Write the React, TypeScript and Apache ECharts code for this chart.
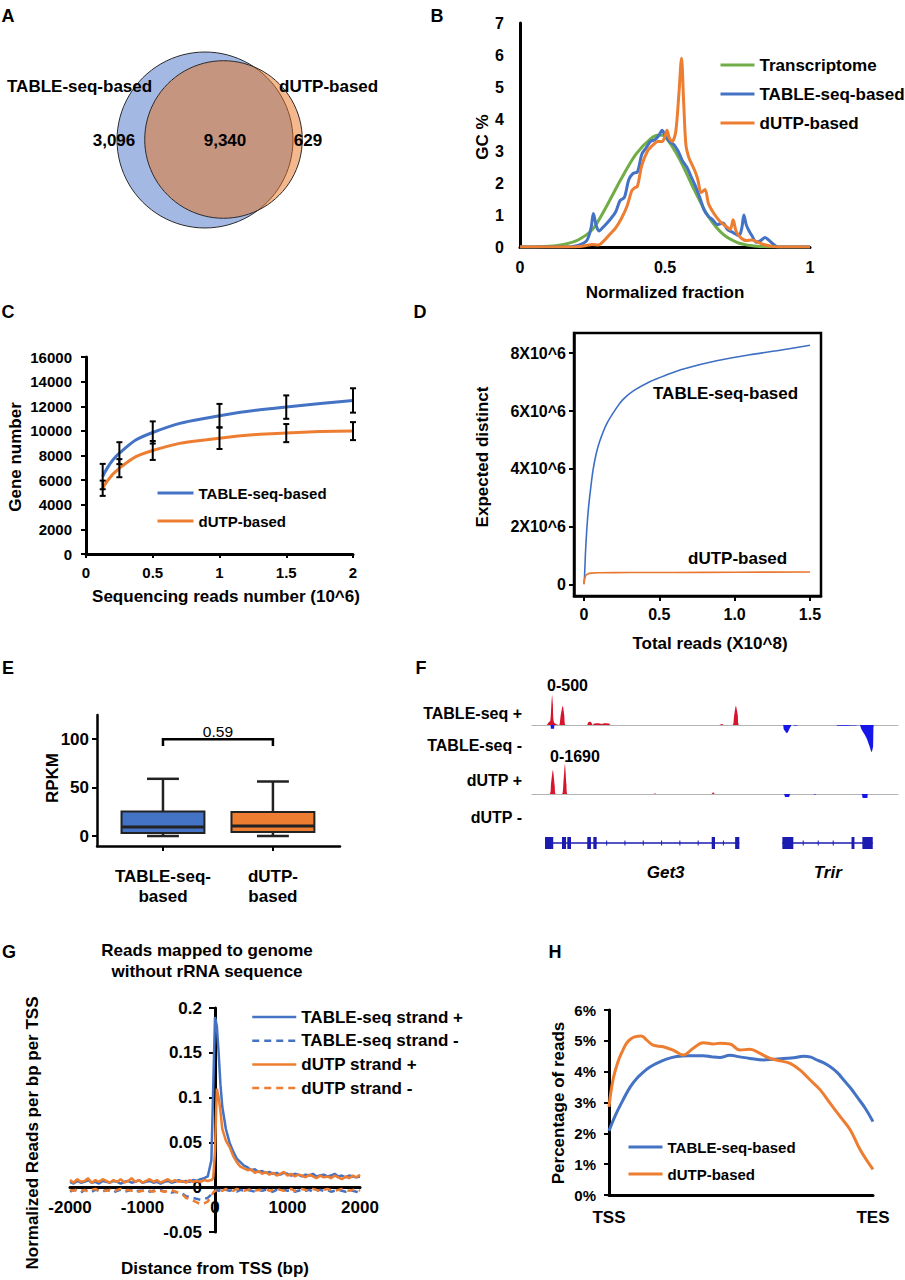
import React, { useEffect, useRef } from "react";
import * as echarts from "echarts";

const FONT = "'Liberation Sans', Arial, Helvetica, sans-serif";
const BLUE = "#4472c4";
const ORANGE = "#ed7d31";
const GREEN = "#70ad47";

// ---------- A: gene overlap ----------
const vennSets = ["TABLE-seq-based", "dUTP-based"];
const vennCounts = [3096, 9340, 629]; // TABLE-seq only, shared, dUTP only

// ---------- B: GC content ----------
const gcTranscriptome = [[0,0],[0.05,0],[0.1,0.02],[0.15,0.08],[0.2,0.22],[0.25,0.55],[0.3,1.3],[0.35,2.15],[0.4,2.9],[0.45,3.38],[0.48,3.5],[0.5,3.45],[0.55,2.75],[0.6,1.8],[0.65,0.95],[0.7,0.4],[0.75,0.14],[0.8,0.04],[0.85,0.01],[0.9,0],[1,0]];
const gcTable = [[0,0],[0.15,0],[0.2,0.05],[0.23,0.2],[0.245,0.6],[0.253,1.05],[0.262,0.7],[0.272,0.5],[0.29,0.65],[0.31,0.85],[0.33,1.1],[0.345,1.45],[0.36,1.55],[0.375,2.1],[0.39,2.3],[0.405,2.35],[0.42,2.9],[0.435,3.1],[0.45,3.3],[0.465,3.35],[0.48,3.5],[0.49,3.65],[0.5,3.5],[0.515,3.3],[0.53,3.2],[0.545,3.0],[0.56,2.7],[0.575,2.5],[0.59,2.2],[0.605,1.9],[0.62,1.55],[0.635,1.15],[0.65,0.95],[0.665,0.85],[0.68,0.7],[0.7,0.75],[0.715,0.55],[0.735,0.45],[0.755,0.35],[0.765,0.6],[0.772,1.0],[0.78,0.7],[0.79,0.5],[0.8,0.35],[0.815,0.15],[0.83,0.2],[0.845,0.3],[0.86,0.2],[0.875,0.08],[0.89,0],[1,0]];
const gcDutp = [[0,0],[0.18,0],[0.22,0.03],[0.25,0.08],[0.27,0.06],[0.29,0.2],[0.31,0.4],[0.33,0.6],[0.35,0.9],[0.37,1.3],[0.385,1.75],[0.395,1.85],[0.405,1.9],[0.42,2.55],[0.44,3.0],[0.46,3.2],[0.475,3.3],[0.49,3.3],[0.5,3.45],[0.507,3.65],[0.515,3.4],[0.525,3.3],[0.537,3.6],[0.548,4.8],[0.557,5.9],[0.564,4.6],[0.572,3.2],[0.582,2.8],[0.592,2.6],[0.602,2.4],[0.612,2.15],[0.625,1.7],[0.638,1.8],[0.65,1.35],[0.665,1.1],[0.68,0.9],[0.695,0.75],[0.71,0.65],[0.725,0.55],[0.735,0.85],[0.745,0.5],[0.76,0.3],[0.78,0.2],[0.8,0.22],[0.82,0.15],[0.84,0.08],[0.87,0.02],[0.9,0],[1,0]];

// ---------- C: saturation of detected genes ----------
const cReads = [0.125, 0.25, 0.5, 1, 1.5, 2];
const cTable = [6290, 8190, 9870, 11230, 11930, 12470];
const cTableSd = [1030, 890, 900, 960, 950, 990];
const cDutp = [5340, 6970, 8410, 9410, 9820, 9980];
const cDutpSd = [620, 735, 770, 880, 735, 730];

// ---------- D: library complexity (millions) ----------
const dTable = [[0,0.05],[0.004,0.3],[0.01,1.1],[0.02,2.0],[0.03,2.65],[0.045,3.35],[0.06,3.95],[0.08,4.5],[0.104,4.95],[0.15,5.55],[0.215,6.1],[0.26,6.4],[0.33,6.7],[0.44,7.02],[0.55,7.25],[0.66,7.45],[0.88,7.73],[1.1,7.94],[1.32,8.11],[1.5,8.27]];
const dDutp = [[0,0.02],[0.005,0.2],[0.012,0.32],[0.025,0.38],[0.05,0.41],[0.1,0.42],[0.3,0.43],[0.6,0.43],[1.0,0.44],[1.5,0.45]];
const dYTicks = [0, 2, 4, 6, 8];
const dXTicks = [0, 0.5, 1, 1.5];

// ---------- E: RPKM distributions [min, Q1, median, Q3, max] ----------
const eGroups = ["TABLE-seq-\nbased", "dUTP-\nbased"];
const eStats = [[0, 3.1, 9.3, 25.4, 59.1], [0, 4.1, 10.3, 24.7, 56.4]];
const ePValue = "0.59";

// ---------- F: browser tracks (position 0..1000 across locus) ----------
const fTablePlus = [[0,0],[40,0],[44,30],[50,60],[53,300],[55,430],[57,300],[60,40],[74,0],[78,120],[84,270],[88,150],[92,0],[150,0],[154,40],[160,45],[166,0],[170,20],[180,25],[190,15],[200,25],[210,20],[215,0],[510,0],[519,15],[525,0],[548,0],[552,120],[557,270],[562,150],[566,0],[1000,0]];
const fTableMinus = [[0,0],[50,0],[52,-55],[60,-55],[62,0],[685,0],[688,-60],[697,-115],[705,-40],[710,0],[720,-10],[730,0],[830,0],[835,-10],[860,-10],[880,-8],[895,0],[900,-60],[908,-130],[915,-200],[922,-300],[928,-385],[932,-300],[934,0],[1000,0]];
const fDutpPlus = [[0,0],[48,0],[52,500],[57,1160],[62,400],[65,0],[82,0],[86,600],[90,1450],[94,500],[97,0],[333,0],[336,50],[339,0],[490,0],[495,90],[500,0],[1000,0]];
const fDutpMinus = [[0,0],[688,0],[692,-145],[702,-145],[706,0],[770,0],[773,-50],[776,0],[900,0],[904,-190],[916,-190],[918,0],[1000,0]];
const geneSpans = [[35.5, 566.5], [684, 931]];
const geneExons = [[35.5,58],[82,93],[96.5,106.6],[151,161],[167.6,176.7],[491,500],[555,566.5],[684,714],[873,881],[902.6,931]];
const intronMarks = [204,254,304,354,404,454,523,741,782,823];
const geneNames = [["Get3", 365], ["Trir", 808]];

// ---------- G: metagene around TSS ----------
const gX = [-2000,-1950,-1900,-1850,-1800,-1750,-1700,-1650,-1600,-1550,
  -1500,-1450,-1400,-1350,-1300,-1250,-1200,-1150,-1100,-1050,
  -1000,-950,-900,-850,-800,-750,-700,-650,-600,-550,
  -500,-450,-400,-350,-300,-250,-200,-150,-100,-50,
  -25,0,25,50,75,100,
  150,200,250,300,350,400,450,500,550,600,
  650,700,750,800,850,900,950,1000,1050,1100,
  1150,1200,1250,1300,1350,1400,1450,1500,1550,1600,
  1650,1700,1750,1800,1850,1900,1950,2000];
const gTablePlus = [0.006,0.004,0.007,0.005,0.006,0.008,0.005,0.006,0.004,0.007,
  0.006,0.005,0.007,0.006,0.004,0.006,0.007,0.005,0.006,0.008,
  0.005,0.006,0.007,0.005,0.006,0.004,0.006,0.007,0.005,0.006,
  0.008,0.006,0.007,0.006,0.008,0.007,0.009,0.010,0.012,0.030,
  0.110,0.190,0.180,0.150,0.115,0.090,
  0.065,0.050,0.040,0.032,0.028,0.024,0.022,0.019,0.020,0.017,
  0.018,0.016,0.017,0.015,0.016,0.014,0.016,0.015,0.013,0.015,
  0.014,0.012,0.014,0.013,0.015,0.012,0.013,0.014,0.012,0.013,
  0.015,0.012,0.013,0.011,0.013,0.012,0.011,0.012];
const gTableMinus = [-0.005,-0.003,-0.004,-0.006,-0.003,-0.004,-0.005,-0.003,-0.004,-0.005,
  -0.003,-0.004,-0.006,-0.004,-0.003,-0.005,-0.004,-0.003,-0.005,-0.004,
  -0.004,-0.003,-0.005,-0.004,-0.004,-0.003,-0.005,-0.004,-0.006,-0.005,
  -0.006,-0.007,-0.010,-0.011,-0.012,-0.013,-0.014,-0.013,-0.012,-0.008,
  -0.006,-0.004,-0.003,-0.004,-0.003,-0.004,
  -0.003,-0.004,-0.003,-0.005,-0.003,-0.004,-0.003,-0.004,-0.005,-0.003,
  -0.004,-0.003,-0.004,-0.005,-0.003,-0.004,-0.003,-0.004,-0.003,-0.005,
  -0.004,-0.003,-0.004,-0.003,-0.005,-0.004,-0.003,-0.004,-0.003,-0.005,
  -0.004,-0.003,-0.004,-0.005,-0.003,-0.004,-0.005,-0.006];
const gDutpPlus = [0.008,0.005,0.009,0.006,0.007,0.010,0.005,0.008,0.006,0.009,
  0.007,0.005,0.008,0.006,0.009,0.005,0.007,0.010,0.006,0.008,
  0.005,0.007,0.009,0.006,0.008,0.005,0.007,0.009,0.006,0.008,
  0.006,0.007,0.005,0.008,0.006,0.007,0.006,0.008,0.007,0.008,
  0.010,0.040,0.110,0.100,0.085,0.065,
  0.052,0.045,0.035,0.028,0.023,0.021,0.019,0.020,0.016,0.018,
  0.015,0.017,0.014,0.016,0.013,0.015,0.017,0.013,0.015,0.012,
  0.014,0.013,0.011,0.014,0.012,0.010,0.013,0.011,0.012,0.010,
  0.013,0.011,0.009,0.012,0.010,0.013,0.011,0.014];
const gDutpMinus = [-0.003,-0.004,-0.002,-0.004,-0.003,-0.005,-0.003,-0.002,-0.004,-0.003,
  -0.004,-0.003,-0.005,-0.003,-0.002,-0.004,-0.003,-0.004,-0.003,-0.005,
  -0.004,-0.003,-0.004,-0.005,-0.003,-0.004,-0.005,-0.004,-0.003,-0.005,
  -0.006,-0.008,-0.012,-0.013,-0.015,-0.017,-0.019,-0.018,-0.016,-0.010,
  -0.006,-0.004,-0.003,-0.004,-0.003,-0.004,
  -0.002,-0.003,-0.004,-0.002,-0.003,-0.004,-0.003,-0.002,-0.004,-0.003,
  -0.003,-0.002,-0.004,-0.003,-0.002,-0.003,-0.004,-0.003,-0.002,-0.004,
  -0.003,-0.002,-0.003,-0.004,-0.002,-0.003,-0.004,-0.003,-0.002,-0.003,
  -0.004,-0.003,-0.002,-0.003,-0.004,-0.003,-0.002,-0.004];
const gXRange = [-2000, 2000];
const gYRange = [-0.05, 0.2];

// ---------- H: gene body coverage (% of reads) ----------
const hTable = [[0,2.08],[2.5,2.6],[5.3,3.08],[8,3.5],[10.5,3.78],[12.9,3.98],[15.5,4.15],[18,4.27],[21.5,4.4],[25.6,4.49],[30,4.52],[35.7,4.52],[39,4.48],[42,4.46],[45.8,4.53],[49.5,4.48],[53.4,4.43],[58.5,4.38],[62,4.4],[66,4.43],[70,4.45],[73.7,4.5],[76.5,4.47],[78.7,4.38],[81,4.3],[83.8,4.16],[86.5,3.97],[88.9,3.73],[91.5,3.47],[93.9,3.19],[97,2.82],[100,2.38]];
const hDutp = [[0,2.86],[1.5,3.73],[3.4,4.32],[5,4.65],[6.6,4.92],[8.2,5.06],[9.7,5.13],[12.3,5.16],[14.2,5.03],[16.7,4.86],[20.5,4.81],[24.3,4.7],[28.1,4.54],[31.9,4.76],[35.7,4.94],[39.5,4.9],[42,4.92],[45.8,4.9],[49.6,4.7],[53.4,4.73],[57.2,4.59],[61,4.43],[64.8,4.35],[68.6,4.27],[72.4,4.05],[76.2,3.73],[80,3.41],[83.8,2.97],[87.6,2.54],[91.4,2.11],[95.2,1.46],[100,0.83]];
const hEnds = ["TSS", "TES"];

// ---------- helpers ----------
const lbl = (size: number, extra: any = {}) => ({
  color: "#000", fontFamily: FONT, fontWeight: "bold", fontSize: size, ...extra,
});
const blackLine = (w: number) => ({ show: true, lineStyle: { color: "#000", width: w } });
const plain = (v: number) => String(Math.round(v * 1000) / 1000);

const T = (text: string, x: number, y: number, o: any = {}) => ({
  type: "text", x, y, rotation: o.rot || 0, z: 20,
  style: {
    text, fill: "#000", fontFamily: FONT, fontSize: o.size || 17,
    fontWeight: o.weight || "bold", fontStyle: o.italic ? "italic" : "normal",
    align: o.align || "center", verticalAlign: "middle",
  },
});

const legendAt = (left: number, top: number, names: string[], itemWidth: number, gap: number, size: number, lineWidth: number) => ({
  left, top, orient: "vertical", padding: 0, itemGap: gap, itemWidth, itemHeight: 14,
  data: names, selectedMode: false,
  itemStyle: { opacity: 0 },
  lineStyle: { width: lineWidth },
  formatter: (n: string) => n.split("|")[1] ?? n,
  textStyle: lbl(size, { lineHeight: 20 }),
});

const lineSeries = (name: string, idx: number, data: any[], color: string, width: number, extra: any = {}) => ({
  type: "line", name, xAxisIndex: idx, yAxisIndex: idx, data, symbol: "none",
  lineStyle: { color, width }, itemStyle: { color }, ...extra,
});

function errorBar(_p: any, api: any) {
  const x = api.value(0);
  const top = api.coord([x, api.value(2)]);
  const bot = api.coord([x, api.value(1)]);
  const st = { stroke: "#000", lineWidth: 2 };
  return {
    type: "group",
    children: [
      { type: "line", shape: { x1: top[0], y1: top[1], x2: bot[0], y2: bot[1] }, style: st },
      { type: "line", shape: { x1: top[0] - 3, y1: top[1], x2: top[0] + 3, y2: top[1] }, style: st },
      { type: "line", shape: { x1: bot[0] - 3, y1: bot[1], x2: bot[0] + 3, y2: bot[1] }, style: st },
    ],
  };
}

const boxColors = [BLUE, ORANGE];
function boxItem(_p: any, api: any) {
  const i = api.value(0);
  const v = [1, 2, 3, 4, 5].map((k) => api.coord([i, api.value(k)]));
  const unit = api.size([1, 0])[0];
  const half = unit * 0.377;
  const cap = unit * 0.145;
  const x = v[0][0];
  const stroke = "#222";
  return {
    type: "group",
    children: [
      { type: "line", shape: { x1: x, y1: v[3][1], x2: x, y2: v[4][1] }, style: { stroke, lineWidth: 2.5 } },
      { type: "line", shape: { x1: x - cap, y1: v[4][1], x2: x + cap, y2: v[4][1] }, style: { stroke, lineWidth: 2.5 } },
      { type: "line", shape: { x1: x, y1: v[1][1], x2: x, y2: v[0][1] }, style: { stroke, lineWidth: 2.5 } },
      { type: "line", shape: { x1: x - cap, y1: v[0][1], x2: x + cap, y2: v[0][1] }, style: { stroke, lineWidth: 2.5 } },
      { type: "rect", shape: { x: x - half, y: v[3][1], width: 2 * half, height: v[1][1] - v[3][1] }, style: { fill: boxColors[i], stroke, lineWidth: 2 } },
      { type: "line", shape: { x1: x - half, y1: v[2][1], x2: x + half, y2: v[2][1] }, style: { stroke, lineWidth: 3 } },
    ],
  };
}

function bracketItem(_p: any, api: any) {
  const a = api.value(0), b = api.value(1), top = api.value(2), foot = api.value(3);
  const p1 = api.coord([a, foot]), p2 = api.coord([a, top]), p3 = api.coord([b, top]), p4 = api.coord([b, foot]);
  return {
    type: "group",
    children: [
      { type: "polyline", shape: { points: [p1, p2, p3, p4] }, style: { stroke: "#000", lineWidth: 2.5, fill: "none" } },
      { type: "text", x: (p2[0] + p3[0]) / 2, y: p2[1] - 8, style: { text: ePValue, fill: "#000", fontFamily: FONT, fontSize: 15.5, align: "center", verticalAlign: "middle" } },
    ],
  };
}

const GENE_COLOR = "#1b1bb0";
function geneItem(_p: any, api: any) {
  const kind = api.value(2);
  const s = api.coord([api.value(0), 0]);
  const e = api.coord([api.value(1), 0]);
  if (kind === 1) {
    return { type: "rect", shape: { x: s[0], y: s[1] - 6, width: Math.max(e[0] - s[0], 2), height: 12 }, style: { fill: GENE_COLOR } };
  }
  if (kind === 2) {
    return { type: "line", shape: { x1: s[0], y1: s[1] - 2.5, x2: s[0], y2: s[1] + 2.5 }, style: { stroke: GENE_COLOR, lineWidth: 1 } };
  }
  return { type: "line", shape: { x1: s[0], y1: s[1], x2: e[0], y2: e[1] }, style: { stroke: GENE_COLOR, lineWidth: 1.5 } };
}

// G panel geometry: axes cross at the origin, so each axis is shifted into the plot
const G_BOX = { left: 70, top: 1008, width: 290, height: 224 };
const gYAxisShift = -G_BOX.width * (0 - gXRange[0]) / (gXRange[1] - gXRange[0]);
const gXAxisShift = -G_BOX.height * (0 - gYRange[0]) / (gYRange[1] - gYRange[0]);

export default function App() {
  const ref = useRef<HTMLDivElement>(null);

  useEffect(() => {
    if (!ref.current) return;
    const chart = echarts.init(ref.current, null, { renderer: "svg", width: 905, height: 1280 });

    const grids = [
      { left: 520, top: 23, width: 290, height: 224 },   // B
      { left: 86, top: 357, width: 267, height: 197 },   // C
      { left: 574, top: 333, width: 247, height: 263, show: true, borderColor: "#000", borderWidth: 2.5 }, // D
      { left: 97, top: 715, width: 243, height: 131 },   // E
      { left: 532, top: 690, width: 366, height: 70 },   // F track 1
      { left: 532, top: 759, width: 366, height: 70 },   // F track 2
      { left: 532, top: 831, width: 366, height: 24 },   // F genes
      G_BOX,                                             // G
      { left: 609, top: 1010, width: 264, height: 185 }, // H
    ].map((g) => ({ ...g, outerBoundsMode: "none", containLabel: false }));

    const none = { show: false };
    const trackLine = { show: true, onZero: true, lineStyle: { color: "#b4b4b4", width: 1.2 } };
    const xAxes: any[] = [
      { gridIndex: 0, type: "value", min: 0, max: 1, interval: 0.5, axisLine: blackLine(3), axisTick: none, splitLine: none, axisLabel: lbl(16, { margin: 12, formatter: plain }) },
      { gridIndex: 1, type: "value", min: 0, max: 2, interval: 0.5, axisLine: blackLine(3), axisTick: { show: true, length: 4, lineStyle: { color: "#000", width: 2 } }, splitLine: none, axisLabel: lbl(15, { margin: 11, formatter: plain }) },
      { gridIndex: 2, type: "value", min: -0.066, max: 1.573, axisLine: { ...blackLine(2.5), onZero: false }, splitLine: none,
        axisTick: { show: true, length: 5, customValues: dXTicks, lineStyle: { color: "#000", width: 2 } },
        axisLabel: lbl(16, { margin: 10, customValues: dXTicks, formatter: (v: number) => (v === 0 ? "0" : v.toFixed(1)) }) },
      { gridIndex: 3, type: "value", min: -0.6, max: 1.61, axisLine: { ...blackLine(2.5), onZero: false }, splitLine: none,
        axisTick: { show: true, length: 5, customValues: [0, 1], lineStyle: { color: "#000", width: 2 } },
        axisLabel: lbl(17, { margin: 20, lineHeight: 20, customValues: [0, 1], formatter: (v: number) => eGroups[Math.round(v)] }) },
      { gridIndex: 4, type: "value", min: 0, max: 1000, axisLine: trackLine, axisTick: none, axisLabel: none, splitLine: none },
      { gridIndex: 5, type: "value", min: 0, max: 1000, axisLine: trackLine, axisTick: none, axisLabel: none, splitLine: none },
      { gridIndex: 6, type: "value", min: 0, max: 1000, show: false },
      { gridIndex: 7, type: "value", min: gXRange[0], max: gXRange[1], interval: 1000, offset: gXAxisShift,
        axisLine: { ...blackLine(3), onZero: false }, axisTick: none, splitLine: none, axisLabel: lbl(17, { margin: 12, formatter: plain }) },
      { gridIndex: 8, type: "value", min: 0, max: 100, axisLine: blackLine(3), axisTick: none, splitLine: none,
        axisLabel: lbl(17, { margin: 14, customValues: [0, 100], formatter: (v: number) => (v === 0 ? hEnds[0] : hEnds[1]) }) },
    ];
    const yAxes: any[] = [
      { gridIndex: 0, type: "value", min: 0, max: 7, interval: 1, axisLine: blackLine(3), axisTick: none, splitLine: none, axisLabel: lbl(16, { margin: 16, formatter: plain }) },
      { gridIndex: 1, type: "value", min: 0, max: 16000, interval: 2000, axisLine: blackLine(3), splitLine: none,
        axisTick: { show: true, length: 5, lineStyle: { color: "#000", width: 2 } }, axisLabel: lbl(15, { margin: 14, formatter: plain }) },
      { gridIndex: 2, type: "value", min: -0.38, max: 8.69, axisLine: { ...blackLine(2.5), onZero: false }, splitLine: none,
        axisTick: { show: true, length: 5, customValues: dYTicks, lineStyle: { color: "#000", width: 2 } },
        axisLabel: lbl(16, { margin: 8, customValues: dYTicks, formatter: (v: number) => (v === 0 ? "0" : `${v}X10^6`) }) },
      { gridIndex: 3, type: "value", min: -10.3, max: 125, axisLine: { ...blackLine(2.5), onZero: false }, splitLine: none,
        axisTick: { show: true, length: 5, customValues: [0, 50, 100], lineStyle: { color: "#000", width: 2 } },
        axisLabel: lbl(17, { margin: 8, customValues: [0, 50, 100], formatter: plain }) },
      { gridIndex: 4, type: "value", min: -500, max: 500, show: false },
      { gridIndex: 5, type: "value", min: -1690, max: 1690, show: false },
      { gridIndex: 6, type: "value", min: -1, max: 1, show: false },
      { gridIndex: 7, type: "value", min: gYRange[0], max: gYRange[1], interval: 0.05, offset: gYAxisShift,
        axisLine: { ...blackLine(3), onZero: false }, splitLine: none,
        axisTick: { show: true, length: 6, lineStyle: { color: "#000", width: 2 } },
        axisLabel: lbl(17, { margin: 13, formatter: (v: number) => String(Math.round(v * 100) / 100) }) },
      { gridIndex: 8, type: "value", min: 0, max: 6, interval: 1, axisLine: blackLine(3), splitLine: none,
        axisTick: { show: true, length: 5, lineStyle: { color: "#000", width: 2 } },
        axisLabel: lbl(15, { margin: 13, formatter: (v: number) => `${v}%` }) },
    ];

    const cover = (name: string, idx: number, data: any[], color: string) =>
      lineSeries(name, idx, data, color, 0, { lineStyle: { width: 0, color }, areaStyle: { color, opacity: 1 }, smooth: 0.25 });

    const series: any[] = [
      // B
      lineSeries("gc|Transcriptome", 0, gcTranscriptome, GREEN, 3, { smooth: 0.3 }),
      lineSeries("gc|TABLE-seq-based", 0, gcTable, BLUE, 3, { smooth: 0.3 }),
      lineSeries("gc|dUTP-based", 0, gcDutp, ORANGE, 3, { smooth: 0.3 }),
      // C
      lineSeries("genes|TABLE-seq-based", 1, cReads.map((x, i) => [x, cTable[i]]), BLUE, 3, { smooth: true }),
      lineSeries("genes|dUTP-based", 1, cReads.map((x, i) => [x, cDutp[i]]), ORANGE, 3, { smooth: true }),
      { type: "custom", xAxisIndex: 1, yAxisIndex: 1, renderItem: errorBar, encode: { x: 0, y: [1, 2] }, z: 5,
        data: cReads.map((x, i) => [x, cTable[i] - cTableSd[i], cTable[i] + cTableSd[i]]) },
      { type: "custom", xAxisIndex: 1, yAxisIndex: 1, renderItem: errorBar, encode: { x: 0, y: [1, 2] }, z: 5,
        data: cReads.map((x, i) => [x, cDutp[i] - cDutpSd[i], cDutp[i] + cDutpSd[i]]) },
      // D
      lineSeries("cx|TABLE-seq-based", 2, dTable, "#3d6fc4", 1.6, { smooth: 0.3 }),
      lineSeries("cx|dUTP-based", 2, dDutp, "#e9772f", 1.6, { smooth: 0.3 }),
      // E
      { type: "custom", xAxisIndex: 3, yAxisIndex: 3, renderItem: boxItem, encode: { x: 0, y: [1, 2, 3, 4, 5] },
        data: eStats.map((s, i) => [i, ...s]) },
      { type: "custom", xAxisIndex: 3, yAxisIndex: 3, renderItem: bracketItem, encode: { x: [0, 1], y: [2, 3] },
        data: [[0, 1, 100, 93]] },
      // F
      cover("trk1+", 4, fTablePlus, "#d8142d"),
      cover("trk1-", 4, fTableMinus, "#1616e8"),
      cover("trk2+", 5, fDutpPlus, "#d8142d"),
      cover("trk2-", 5, fDutpMinus, "#1616e8"),
      { type: "custom", xAxisIndex: 6, yAxisIndex: 6, renderItem: geneItem, encode: { x: [0, 1] },
        data: [
          ...geneSpans.map((s) => [s[0], s[1], 0]),
          ...intronMarks.map((m) => [m, m, 2]),
          ...geneExons.map((e) => [e[0], e[1], 1]),
        ] },
      // G
      lineSeries("tss|TABLE-seq strand +", 7, gX.map((x, i) => [x, gTablePlus[i]]), BLUE, 2.5),
      lineSeries("tss|TABLE-seq strand -", 7, gX.map((x, i) => [x, gTableMinus[i]]), BLUE, 2.5, { lineStyle: { color: BLUE, width: 2.5, type: [7, 5] } }),
      lineSeries("tss|dUTP strand +", 7, gX.map((x, i) => [x, gDutpPlus[i]]), ORANGE, 2.5),
      lineSeries("tss|dUTP strand -", 7, gX.map((x, i) => [x, gDutpMinus[i]]), ORANGE, 2.5, { lineStyle: { color: ORANGE, width: 2.5, type: [7, 5] } }),
      // H
      lineSeries("body|TABLE-seq-based", 8, hTable, BLUE, 3, { smooth: 0.4 }),
      lineSeries("body|dUTP-based", 8, hDutp, ORANGE, 3, { smooth: 0.4 }),
    ];

    const legends = [
      legendAt(719, 55, ["gc|Transcriptome", "gc|TABLE-seq-based", "gc|dUTP-based"], 34, 9, 17, 3),
      legendAt(156, 483, ["genes|TABLE-seq-based", "genes|dUTP-based"], 36, 8, 15, 3),
      legendAt(251, 1007, ["tss|TABLE-seq strand +", "tss|TABLE-seq strand -", "tss|dUTP strand +", "tss|dUTP strand -"], 44, 3.7, 17, 2.5),
      legendAt(627, 1137, ["body|TABLE-seq-based", "body|dUTP-based"], 34, 7, 15, 3),
    ];

    // Venn circles: area proportional to each set's gene count
    const vennScale = 0.789;
    const rTable = vennScale * Math.sqrt(vennCounts[0] + vennCounts[1]);
    const rDutp = vennScale * Math.sqrt(vennCounts[1] + vennCounts[2]);
    const fmt = (n: number) => n.toLocaleString("en-US");

    const graphic: any[] = [
      // panel letters
      T("A", 8, 16, { size: 18 }), T("B", 437, 16, { size: 18 }),
      T("C", 8, 312, { size: 18 }), T("D", 420, 312, { size: 18 }),
      T("E", 8, 668, { size: 18 }), T("F", 421, 668, { size: 18 }),
      T("G", 9, 952, { size: 18 }), T("H", 555, 952, { size: 18 }),
      // A
      { type: "circle", shape: { cx: 205, cy: 140, r: rTable }, style: { fill: "rgb(163,184,226)", stroke: "#2b2b2b", lineWidth: 1 } },
      { type: "circle", shape: { cx: 223.5, cy: 139.5, r: rDutp }, style: { fill: "rgba(233,113,29,0.5)", stroke: "#2b2b2b", lineWidth: 1 } },
      T(vennSets[0], 7, 86, { align: "left" }),
      T(vennSets[1], 279, 86, { align: "left" }),
      T(fmt(vennCounts[0]), 114, 140),
      T(fmt(vennCounts[1]), 225, 140),
      T(fmt(vennCounts[2]), 308, 140),
      // B titles
      T("Normalized fraction", 665, 292),
      T("GC %", 482, 137, { rot: Math.PI / 2 }),
      // C titles
      T("Sequencing reads number (10^6)", 226, 596),
      T("Gene number", 15, 457, { rot: Math.PI / 2 }),
      // D titles and curve labels
      T("Total reads (X10^8)", 710, 643),
      T("Expected distinct", 482, 457, { rot: Math.PI / 2 }),
      T("TABLE-seq-based", 653, 393, { align: "left" }),
      T("dUTP-based", 688, 558, { align: "left" }),
      // E
      T("RPKM", 52, 778, { rot: Math.PI / 2 }),
      // F
      T("TABLE-seq +", 522, 713, { align: "right", size: 16 }),
      T("TABLE-seq -", 522, 745, { align: "right", size: 16 }),
      T("dUTP +", 522, 780, { align: "right", size: 16 }),
      T("dUTP -", 522, 817, { align: "right", size: 16 }),
      T("0-500", 547, 685, { align: "left", size: 16 }),
      T("0-1690", 550, 756, { align: "left", size: 16 }),
      ...geneNames.map(([n, pos]) => T(n as string, 532 + (pos as number) * 0.366, 872, { italic: true })),
      // G
      T("Reads mapped to genome", 207, 950),
      T("without rRNA sequence", 207, 971),
      T("Normalized Reads per bp per TSS", 32, 1133, { rot: Math.PI / 2 }),
      T("Distance from TSS (bp)", 215, 1268),
      // H
      T("Percentage of reads", 558, 1103, { rot: Math.PI / 2 }),
    ];

    chart.setOption({
      animation: false,
      backgroundColor: "#ffffff",
      textStyle: { fontFamily: FONT },
      grid: grids,
      xAxis: xAxes,
      yAxis: yAxes,
      legend: legends,
      series,
      graphic,
    });

    return () => chart.dispose();
  }, []);

  return (
    <div
      ref={ref}
      style={{ position: "absolute", left: 0, top: 0, width: 905, height: 1280, background: "#fff" }}
    />
  );
}
